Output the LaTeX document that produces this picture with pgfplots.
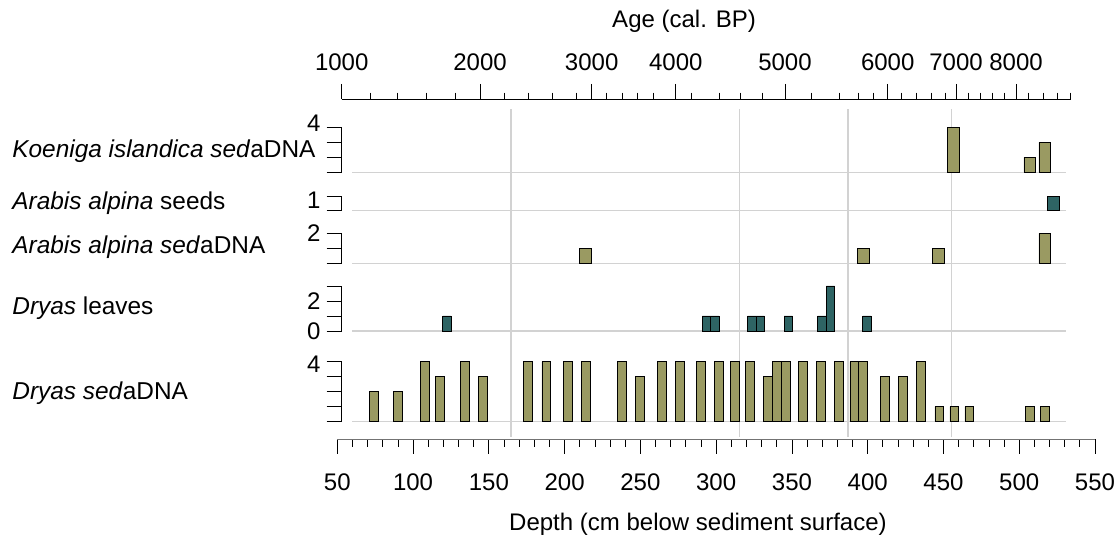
\documentclass[border=0pt]{standalone}
\usepackage{pgfplots}
\pgfplotsset{compat=1.18}
\usepackage{fontspec}
\setmainfont{Liberation Sans}
\definecolor{olivebar}{RGB}{154,154,98}
\definecolor{tealbar}{RGB}{46,100,100}
\definecolor{gridc}{RGB}{210,210,210}
\newcommand{\fs}{\fontsize{24}{28}\selectfont}
\newcommand{\fl}{\fontsize{24.4}{28}\selectfont}

\pgfplotsset{
  panel/.style={
    scale only axis, width=753.1pt, xmin=52.9, xmax=550,
    anchor=south west, axis x line=none, axis y line*=left, xtick=\empty,
    tick align=outside, major tick length=15pt,
    every tick/.style={black, line width=0.8pt},
    axis line style={black, line width=0.8pt},
    yticklabel style={font=\fs, xshift=-5pt, inner sep=1pt},
    ybar, bar shift=0pt, clip=false,
  },
  olivebars/.style={fill=olivebar, draw=black, line width=0.8pt},
  tealbars/.style={fill=tealbar, draw=black, line width=0.8pt},
}

\begin{document}
\begin{tikzpicture}
\path[use as bounding box] (0,0) rectangle (1118pt,537pt);

% frame axis: depth axis at bottom + zone lines
\begin{axis}[scale only axis, width=757.7pt, height=330pt,
  xmin=50, xmax=550, ymin=0, ymax=1,
  at={(337.3pt,97.7pt)}, anchor=south west,
  axis x line*=bottom, axis y line=none,
  xtick={50,100,150,200,250,300,350,400,450,500,550},
  xticklabels={50,100,150,200,250,300,350,400,450,500,550},
  minor x tick num=4,
  tick align=outside, major tick length=14.7pt, minor tick length=7.7pt,
  every tick/.style={black, line width=0.8pt},
  axis line style={black!55, line width=0.8pt},
  xticklabel style={font=\fs, yshift=-16pt},
  xlabel={Depth (cm below sediment surface)},
  xlabel style={font=\fs, at={(axis description cs:0.476,0)}, anchor=base, yshift=-90.9pt},
  clip=false]
\draw[gridc, line width=1.4pt] (axis cs:164.7,0.008) -- (axis cs:164.7,1);
\draw[gridc, line width=1.4pt] (axis cs:315.3,0.008) -- (axis cs:315.3,1);
\draw[gridc, line width=1.4pt] (axis cs:386.9,0.008) -- (axis cs:386.9,1);
\draw[gridc, line width=1.4pt] (axis cs:455.1,0.008) -- (axis cs:455.1,1);
\end{axis}

% top age axis
\begin{axis}[scale only axis, width=729.0pt, height=10pt,
  xmin=52.9, xmax=534.1, ymin=0, ymax=1,
  at={(341.7pt,437.7pt)}, anchor=north west,
  axis x line*=top, axis y line=none,
  xtick={52.9,144.2,217.9,273.4,345.5,413.3,458.4,498.0},
  xticklabels={1000,2000,3000,4000,5000,6000,7000,8000},
  minor xtick={71.6,89.9,109.0,127.7,160.0,176.1,191.9,207.6,227.8,238.1,248.3,258.6,283.9,302.1,315.8,330.8,363.1,381.4,393.9,403.8,422.5,432.4,441.9,451.1,466.5,474.2,482.6,490.1,506.1,516.0,525.2,534.1},
  tick align=outside, major tick length=15.3pt, minor tick length=6.6pt,
  every tick/.style={black, line width=0.8pt},
  axis line style={black, line width=0.8pt},
  xticklabel style={font=\fs, yshift=9.5pt},
  xlabel={Age (cal. BP)},
  xlabel style={font=\fs, at={(axis description cs:0.4696,1)}, anchor=base, yshift=71.6pt}]
\end{axis}

% Koeniga islandica sedaDNA
\begin{axis}[panel, clip=true, at={(341.7pt,364.7pt)}, height=45pt,
  ymin=1, ymax=4, ytick={1,2,3,4}, yticklabels={,,,4}, bar width=7.8,
  yticklabel style={yshift=4.5pt}]
\draw[gridc, line width=1.4pt] (axis cs:59.7,1) -- (axis cs:531,1);
\addplot[olivebars] coordinates {(456.9,4) (507.1,2) (517.0,3)};
\end{axis}

% Arabis alpina seeds
\begin{axis}[panel, at={(341.7pt,326.5pt)}, height=14pt,
  ymin=0, ymax=1, ytick={0,1}, yticklabels={,1}, bar width=7.8,
  yticklabel style={yshift=-4pt}]
\draw[gridc, line width=1.4pt] (axis cs:59.7,0) -- (axis cs:531,0);
\addplot[tealbars] coordinates {(522.5,1)};
\end{axis}

% Arabis alpina sedaDNA
\begin{axis}[panel, at={(341.7pt,273.7pt)}, height=30pt,
  ymin=0, ymax=2, ytick={0,1,2}, yticklabels={,,2}, bar width=7.8]
\draw[gridc, line width=1.4pt] (axis cs:59.7,0) -- (axis cs:531,0);
\addplot[olivebars] coordinates {(213.8,1) (397.2,1) (447.0,1) (517.0,2)};
\end{axis}

% Dryas leaves
\begin{axis}[panel, at={(341.7pt,206pt)}, height=45pt,
  ymin=0, ymax=3, ytick={0,1,2,3}, yticklabels={0,,2,}, bar width=5.5]
\draw[gridc, line width=1.4pt] (axis cs:59.7,0) -- (axis cs:531,0);
\addplot[tealbars] coordinates {(122.4,1) (293.7,1) (299.2,1) (323.6,1) (329.1,1) (347.6,1) (369.8,1) (375.5,3) (399.6,1)};
\end{axis}

% Dryas sedaDNA
\begin{axis}[panel, at={(341.7pt,115.3pt)}, height=60pt,
  ymin=0, ymax=4, ytick={0,1,2,3,4}, yticklabels={,,,,4}, bar width=5.9,
  yticklabel style={yshift=-3pt}]
\draw[gridc, line width=1.4pt] (axis cs:59.7,0) -- (axis cs:531,0);
\addplot[olivebars] coordinates {
(74.2,2) (90.1,2) (108.1,4) (118.0,3) (134.1,4) (146.2,3) (175.9,4) (188.0,4)
(202.1,4) (214.2,4) (238.1,4) (250.0,3) (264.1,4) (276.2,4) (290.3,4) (302.0,4)
(312.3,4) (322.2,4) (334.3,3) (340.4,4) (346.3,4) (357.2,4) (369.3,4) (381.2,4)
(391.3,4) (397.2,4) (411.3,3) (423.4,3) (435.3,4) (447.4,1) (457.3,1) (467.2,1)
(507.2,1) (517.1,1)};
\end{axis}

% row labels
\node[anchor=west, inner sep=0pt, font=\fl] at (12.2pt,386pt) {\textit{Koeniga islandica sed}aDNA};
\node[anchor=west, inner sep=0pt, font=\fl] at (12.2pt,334pt) {\textit{Arabis alpina} seeds};
\node[anchor=west, inner sep=0pt, font=\fl] at (12.2pt,290pt) {\textit{Arabis alpina sed}aDNA};
\node[anchor=west, inner sep=0pt, font=\fl] at (12.2pt,229pt) {\textit{Dryas} leaves};
\node[anchor=west, inner sep=0pt, font=\fl] at (12.2pt,144pt) {\textit{Dryas sed}aDNA};
\end{tikzpicture}
\end{document}
